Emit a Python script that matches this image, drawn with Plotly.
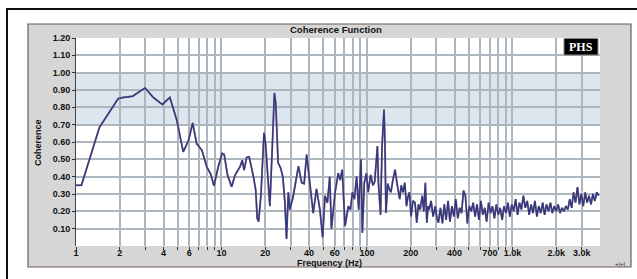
import plotly.graph_objects as go

# ---- data ----
freq_low = [1, 1.09, 1.45, 1.95, 2.1, 2.45, 2.98, 3.4, 3.92, 4.42, 4.93, 5.46, 5.94, 6.34, 6.75,
            7.33, 7.92, 8.43, 8.88, 9.5, 10.1, 10.44, 11.0, 11.74, 12.4, 13.4, 13.9, 14.3, 14.9,
            15.5, 16.6, 17.2, 17.6]
coh_low = [0.35, 0.35, 0.685, 0.85, 0.857, 0.864, 0.912, 0.857, 0.816, 0.857, 0.726, 0.543, 0.61,
           0.71, 0.59, 0.553, 0.457, 0.415, 0.347, 0.457, 0.534, 0.528, 0.409, 0.342, 0.409,
           0.457, 0.495, 0.438, 0.511, 0.514, 0.399, 0.323, 0.16]

freq_mid = [18.0, 18.7, 19.6, 20.1, 20.7, 21.5, 22.3, 23.1, 23.6, 24.5, 25.5, 26.4, 27.3, 28.0,
            28.8, 29.5, 31, 32.9, 33.8, 35.6, 37, 38.5, 39.5, 41.1, 42.7, 45, 47.5, 49.6, 51.5,
            53.5, 55.5, 57, 60.4, 63.5, 65.5, 67.6, 70.7, 74.5, 77, 79.4, 82, 84.9, 87.8, 91,
            93, 95.9, 99.2, 102, 106, 110, 113, 118, 120, 124, 127, 131, 133, 135, 139, 142,
            146, 151, 156, 161, 165, 168, 172, 177, 182, 187, 191, 196, 201, 207, 214, 220,
            226, 232, 240, 246, 252, 258, 263, 268, 276, 285, 295, 303, 310]
coh_mid = [0.14, 0.30, 0.653, 0.59, 0.45, 0.23, 0.55, 0.883, 0.826, 0.48, 0.45, 0.40, 0.25, 0.04,
           0.31, 0.21, 0.28, 0.42, 0.46, 0.365, 0.36, 0.528, 0.44, 0.288, 0.19, 0.33, 0.21, 0.05,
           0.29, 0.25, 0.40, 0.10, 0.31, 0.42, 0.38, 0.44, 0.115, 0.23, 0.21, 0.31, 0.27, 0.40,
           0.21, 0.50, 0.077, 0.365, 0.42, 0.31, 0.41, 0.35, 0.37, 0.576, 0.36, 0.18, 0.576,
           0.787, 0.595, 0.19, 0.36, 0.33, 0.31, 0.384, 0.44, 0.36, 0.30, 0.27, 0.35, 0.31,
           0.365, 0.23, 0.28, 0.31, 0.17, 0.26, 0.25, 0.135, 0.24, 0.21, 0.29, 0.20, 0.365,
           0.135, 0.23, 0.21, 0.26, 0.17, 0.23, 0.16, 0.135]

freq_high = [320, 330, 340, 350, 361, 372, 384, 396, 408, 421, 434, 447, 461, 475, 490, 505, 521,
             537, 554, 571, 589, 607, 626, 645, 665, 686, 707, 729, 752, 775, 799, 824, 850, 876,
             903, 931, 960, 990, 1020, 1052, 1085, 1118, 1153, 1189, 1226, 1264, 1303, 1344,
             1385, 1428, 1473, 1518, 1566, 1614, 1664, 1716, 1770, 1825, 1881, 1940, 2000, 2062,
             2126, 2192, 2260, 2330, 2403, 2477, 2554, 2634, 2715, 2800, 2887, 2976, 3069, 3164,
             3262, 3363, 3468, 3576, 3687, 3801, 3920]
coh_high = [0.22, 0.13, 0.24, 0.15, 0.26, 0.14, 0.23, 0.17, 0.27, 0.16, 0.22, 0.19, 0.32, 0.29,
            0.13, 0.23, 0.20, 0.25, 0.17, 0.24, 0.15, 0.26, 0.18, 0.22, 0.14, 0.25, 0.19, 0.23,
            0.16, 0.24, 0.18, 0.22, 0.15, 0.23, 0.19, 0.25, 0.17, 0.24, 0.20, 0.27, 0.18, 0.25,
            0.21, 0.29, 0.22, 0.26, 0.18, 0.24, 0.19, 0.26, 0.17, 0.23, 0.19, 0.25, 0.18, 0.24,
            0.20, 0.25, 0.19, 0.23, 0.20, 0.24, 0.19, 0.22, 0.20, 0.23, 0.21, 0.27, 0.22, 0.31,
            0.25, 0.34, 0.24, 0.30, 0.23, 0.31, 0.25, 0.29, 0.24, 0.30, 0.26, 0.31, 0.29]

freq = freq_low + freq_mid + freq_high
coherence = coh_low + coh_mid + coh_high

grid_freqs = [1, 2, 3, 4, 5, 6, 7, 8, 9, 10, 20, 30, 40, 50, 60, 70, 80, 90, 100,
              200, 300, 400, 500, 600, 700, 800, 900, 1000, 2000, 3000]
labeled = {1: "1", 2: "2", 4: "4", 6: "6", 10: "10", 20: "20", 40: "40", 60: "60",
           100: "100", 200: "200", 400: "400", 700: "700", 1000: "1.0k", 2000: "2.0k", 3000: "3.0k"}
x_ticktext = [labeled.get(f, "") for f in grid_freqs]
y_tickvals = [0.1, 0.2, 0.3, 0.4, 0.5, 0.6, 0.7, 0.8, 0.9, 1.0, 1.1, 1.2]
y_ticktext = ["%.2f" % v for v in y_tickvals]
band = (0.7, 1.0)

# ---- layout geometry (pixels) ----
W, H = 637, 279
L, R, T, B = 76, 600, 38, 246


def px(x):
    return (x - L) / (R - L)


def py(y):
    return (B - y) / (B - T)


FONT = "Liberation Sans, Arial, sans-serif"

fig = go.Figure()
fig.add_trace(go.Scatter(x=freq, y=coherence, mode="lines",
                         line=dict(color="#c27a95", width=1.9), hoverinfo="skip",
                         showlegend=False))
fig.add_trace(go.Scatter(x=freq, y=coherence, mode="lines",
                         line=dict(color="#2b3c80", width=1.5), showlegend=False))

shapes = [
    # outer black frame
    dict(type="rect", xref="paper", yref="paper", x0=px(7), x1=px(645), y0=py(287), y1=py(9),
         line=dict(color="#111", width=2), fillcolor="rgba(0,0,0,0)", layer="below"),
    # gray panel
    dict(type="rect", xref="paper", yref="paper", x0=px(28), x1=px(631), y0=py(267), y1=py(24),
         line=dict(color="#6e5c58", width=1.2), fillcolor="#d6d6d6", layer="below"),
    # white plot area
    dict(type="rect", xref="paper", yref="paper", x0=0, x1=1, y0=0, y1=1,
         line=dict(width=0), fillcolor="#ffffff", layer="below"),
    # shaded coherence band
    dict(type="rect", xref="paper", yref="y", x0=0, x1=1, y0=band[0], y1=band[1],
         line=dict(width=0), fillcolor="#dde5ef", layer="below"),
    # PHS logo box
    dict(type="rect", xref="paper", yref="paper", x0=px(564), x1=px(598), y0=py(55), y1=py(38.5),
         line=dict(color="#888", width=1), fillcolor="#000", layer="above"),
]

annotations = [
    dict(text="Coherence Function", xref="paper", yref="paper", x=px(336), y=py(30),
         showarrow=False, font=dict(family=FONT, size=9.5, color="#111", weight="bold"),
         xanchor="center", yanchor="middle"),
    dict(text="Frequency (Hz)", xref="paper", yref="paper", x=px(329), y=py(262.5),
         showarrow=False, font=dict(family=FONT, size=9, color="#111", weight="bold"),
         xanchor="center", yanchor="middle"),
    dict(text="Coherence", xref="paper", yref="paper", x=px(38), y=py(143), textangle=-90,
         showarrow=False, font=dict(family=FONT, size=9, color="#111", weight="bold"),
         xanchor="center", yanchor="middle"),
    dict(text="PHS", xref="paper", yref="paper", x=px(581), y=py(47), showarrow=False,
         font=dict(family="Liberation Serif, Times New Roman, serif", size=12, color="#fff",
                   weight="bold"), xanchor="center", yanchor="middle"),
    dict(text="+|+|", xref="paper", yref="paper", x=px(620), y=py(264), showarrow=False,
         font=dict(family=FONT, size=6, color="#222"), xanchor="center", yanchor="middle"),
]

fig.update_layout(
    width=W, height=H,
    margin=dict(l=L, r=W - R, t=T, b=H - B, pad=0),
    paper_bgcolor="#ffffff", plot_bgcolor="#ffffff",
    shapes=shapes, annotations=annotations,
    xaxis=dict(type="log", range=[0, 3.602], tickvals=grid_freqs, ticktext=x_ticktext,
               showgrid=True, gridcolor="#adb5bd", gridwidth=1.5, ticks="outside", ticklen=3,
               tickcolor="#333", tickfont=dict(family=FONT, size=9, color="#111", weight="bold"),
               ticklabelstandoff=-5,
               showline=False, zeroline=False, fixedrange=True),
    yaxis=dict(range=[0, 1.2], tickvals=y_tickvals, ticktext=y_ticktext, showgrid=True,
               gridcolor="#adb5bd", gridwidth=1.5, ticks="outside", ticklen=3, tickcolor="#333",
               tickfont=dict(family=FONT, size=9, color="#111", weight="bold"),
               showline=True, linecolor="#444", linewidth=1, zeroline=False, fixedrange=True),
    showlegend=False,
)

fig.write_html("out.html", config={"displayModeBar": False},
               post_script="document.body.style.margin='0';document.body.style.overflow='hidden';")
